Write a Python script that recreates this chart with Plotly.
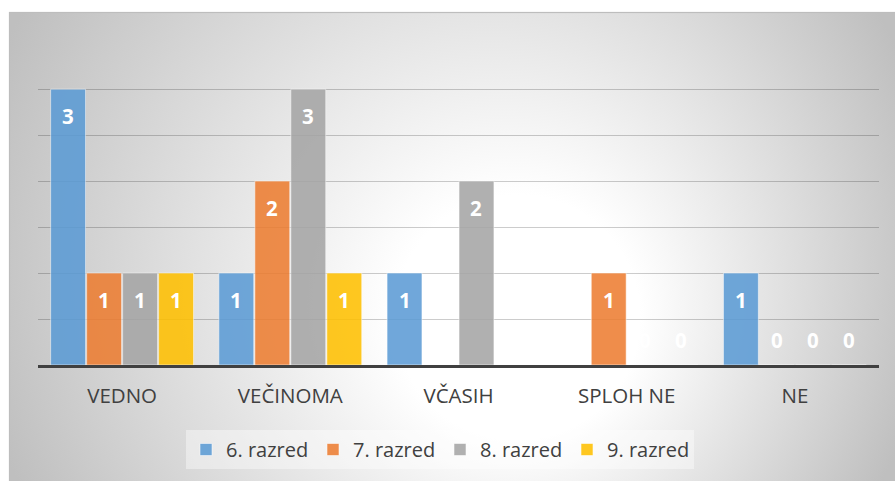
import base64
import plotly.graph_objects as go

# ---- data ----
categories = ["VEDNO", "VEČINOMA", "VČASIH", "SPLOH NE", "NE"]
series_names = ["6. razred", "7. razred", "8. razred", "9. razred"]
razred6 = [3, 1, 1, None, 1]
razred7 = [1, 2, None, 1, 0]
razred8 = [1, 3, 2, 0, 0]
razred9 = [1, 1, None, 0, 0]
series_values = [razred6, razred7, razred8, razred9]
colors = ["#5B9BD5", "#ED7D31", "#A5A5A5", "#FFC000"]

# ---- layout geometry ----
W, H = 895, 481
ML, MR, MT, MB = 38, 16, 43, 116
PW, PH = W - ML - MR, H - MT - MB
BARGAP = 0.144
BARGROUPGAP = 0.03
FONT = "Open Sans"
FS = 20.5

fig = go.Figure()
for name, vals, col in zip(series_names, series_values, colors):
    fig.add_trace(go.Bar(
        x=categories, y=vals, name=name,
        marker=dict(color=col, line=dict(color="rgba(255,255,255,0.55)", width=1)),
        opacity=0.87,
    ))

# data labels (inside end; zero values just above the baseline)
slot_px = PW / len(categories) * (1 - BARGAP) / len(series_names)
annotations = []
for i, vals in enumerate(series_values):
    for cat, v in zip(categories, vals):
        if v is None:
            continue
        annotations.append(dict(
            x=cat, y=v, xref="x", yref="y", text=str(v), showarrow=False,
            xshift=(i - (len(series_names) - 1) / 2) * slot_px,
            yshift=-27 if v > 0 else 25,
            font=dict(family=FONT, size=FS, color="white", weight="bold"),
        ))

# background: radial grey-white gradient chart area
svg = f'''<svg xmlns="http://www.w3.org/2000/svg" width="{W}" height="{H}" viewBox="0 0 {W} {H}">
<defs>
<radialGradient id="g" gradientUnits="userSpaceOnUse" cx="450" cy="250" r="490" fx="540" fy="340">
<stop offset="0" stop-color="#ffffff"/>
<stop offset="0.25" stop-color="#ffffff"/>
<stop offset="1" stop-color="#bfbfbf"/>
</radialGradient>
</defs>
<rect x="0" y="0" width="{W}" height="{H}" fill="#ffffff"/>
<rect x="9.5" y="12.5" width="{W}" height="{H}" fill="url(#g)" stroke="#bdbdbd" stroke-width="1.2"/>
</svg>'''
src = "data:image/svg+xml;base64," + base64.b64encode(svg.encode()).decode()

fig.update_layout(
    width=W, height=H,
    margin=dict(l=ML, r=MR, t=MT, b=MB, pad=0),
    paper_bgcolor="white", plot_bgcolor="rgba(0,0,0,0)",
    barmode="group", bargap=BARGAP, bargroupgap=BARGROUPGAP,
    font=dict(family=FONT, color="#404040"),
    showlegend=True,
    legend=dict(
        orientation="h", x=(440 - ML) / PW, xanchor="center",
        y=(H - MB - 449.5) / PH, yanchor="middle",
        bgcolor="rgba(255,255,255,0.4)",
        font=dict(family=FONT, size=20, color="#404040"),
        entrywidth=82, entrywidthmode="pixels",
        itemwidth=30,
    ),
    annotations=annotations,
    images=[dict(
        source=src, xref="paper", yref="paper",
        x=-ML / PW, y=(H - MB) / PH, sizex=W / PW, sizey=H / PH,
        xanchor="left", yanchor="top", sizing="stretch", layer="below",
    )],
)
fig.update_xaxes(
    showline=True, linecolor="#404040", linewidth=3,
    ticks="", tickfont=dict(family=FONT, size=FS, color="#404040"),
    ticklabelstandoff=10, showgrid=False,
)
fig.update_yaxes(
    range=[0, 3.502], dtick=0.5, showticklabels=False,
    showgrid=True, gridcolor="rgba(0,0,0,0.2)", gridwidth=1.3,
    zeroline=False,
)

fig.write_html(
    "out.html",
    config={"displayModeBar": False},
    post_script="document.body.style.margin='0';document.body.style.overflow='hidden';",
)
